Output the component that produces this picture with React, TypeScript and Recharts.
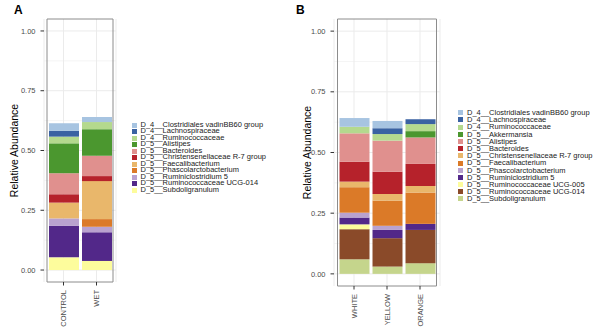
import React from "react";
import { BarChart, Bar, XAxis, YAxis, CartesianGrid, Legend, ReferenceArea } from "recharts";

// panel A (legend order, top to bottom)
const taxaA = [
  "D_4__Clostridiales vadinBB60 group",
  "D_4__Lachnospiraceae",
  "D_4__Ruminococcaceae",
  "D_5__Alistipes",
  "D_5__Bacteroides",
  "D_5__Christensenellaceae R-7 group",
  "D_5__Faecalibacterium",
  "D_5__Phascolarctobacterium",
  "D_5__Ruminiclostridium 5",
  "D_5__Ruminococcaceae UCG-014",
  "D_5__Subdoligranulum",
];
const colorsA = ["#a7c4e1", "#3a62a2", "#b4d98e", "#4b972f", "#e0908e", "#b6222b", "#e9b76b", "#db7a28", "#b9a2cf", "#522889", "#fdfc9c"];
const samplesA = ["CONTROL", "WET"];
const controlA = [0.032, 0.024, 0.028, 0.125, 0.088, 0.035, 0.066, 0, 0.031, 0.132, 0.053];
const wetA = [0.021, 0, 0.030, 0.111, 0.085, 0.021, 0.159, 0.032, 0.023, 0.120, 0.038];

// panel B
const taxaB = [
  "D_4__Clostridiales vadinBB60 group",
  "D_4__Lachnospiraceae",
  "D_4__Ruminococcaceae",
  "D_5__Akkermansia",
  "D_5__Alistipes",
  "D_5__Bacteroides",
  "D_5__Christensenellaceae R-7 group",
  "D_5__Faecalibacterium",
  "D_5__Phascolarctobacterium",
  "D_5__Ruminiclostridium 5",
  "D_5__Ruminococcaceae UCG-005",
  "D_5__Ruminococcaceae UCG-014",
  "D_5__Subdoligranulum",
];
const colorsB = ["#a7c4e1", "#3a62a2", "#b4d98e", "#4b972f", "#e0908e", "#b6222b", "#e9b76b", "#db7a28", "#b9a2cf", "#522889", "#fdfc9c", "#8a4a29", "#c5d58c"];
const samplesB = ["WHITE", "YELLOW", "ORANGE"];
const whiteB = [0.036, 0, 0.027, 0, 0.117, 0.082, 0.023, 0.105, 0.020, 0.028, 0.020, 0.124, 0.060];
const yellowB = [0.030, 0.024, 0.027, 0, 0.128, 0.092, 0.027, 0.104, 0.017, 0.034, 0, 0.117, 0.030];
const orangeB = [0, 0.020, 0.029, 0.026, 0.109, 0.091, 0.027, 0.129, 0, 0.025, 0, 0.137, 0.044];

const yTicks = [0, 0.25, 0.5, 0.75, 1];
const yMinor = [0.125, 0.375, 0.625, 0.875];

const FONT = "'Liberation Sans', Arial, sans-serif";

function buildRows(samples: string[], values: number[][]) {
  return samples.map((s, i) => {
    const row: Record<string, any> = { sample: s };
    values[i].forEach((v, j) => (row["t" + j] = v));
    return row;
  });
}

const XTick = ({ x, y, payload }: any) => (
  <text
    x={x}
    y={y}
    transform={`rotate(-90 ${x} ${y})`}
    textAnchor="end"
    dy="0.35em"
    fontSize={7.5}
    fill="#4d4d4d"
    fontFamily={FONT}
  >
    {payload.value}
  </text>
);

interface PanelProps {
  taxa: string[];
  colors: string[];
  samples: string[];
  values: number[][];
  left: number;
  plotLeft: number;
  plotRight: number;
  plotTop: number;
  plotBottom: number;
  padX: number;
  labelX: number;
  legendX: number;
  legendY: number;
  rowH: number;
}

function Panel(p: PanelProps) {
  const data = buildRows(p.samples, p.values);
  const W = 300;
  const H = 329;
  const renderLegend = () => (
    <div style={{ fontFamily: FONT }}>
      {p.taxa.map((t, i) => (
        <div key={t} style={{ display: "flex", alignItems: "center", height: p.rowH }}>
          <span style={{ width: 5, height: 5, background: p.colors[i], marginRight: 4, flex: "none" }} />
          <span style={{ fontSize: 7.5, lineHeight: p.rowH + "px", whiteSpace: "nowrap", color: "#1a1a1a" }}>{t}</span>
        </div>
      ))}
    </div>
  );
  return (
    <div style={{ position: "absolute", left: p.left, top: 0 }}>
      <BarChart
        width={W}
        height={H}
        data={data}
        margin={{ top: p.plotTop, left: 0, right: W - p.plotRight, bottom: 0 }}
      >
        <CartesianGrid stroke="#ebebeb" strokeWidth={0.5} vertical={false} horizontalValues={yMinor} />
        <CartesianGrid stroke="#ebebeb" strokeWidth={1} horizontalValues={yTicks} />
        <XAxis
          dataKey="sample"
          height={H - p.plotBottom}
          padding={{ left: p.padX, right: p.padX }}
          axisLine={false}
          tickSize={3.5}
          tickMargin={4.5}
          tickLine={{ stroke: "#333" }}
          tick={<XTick />}
          interval={0}
        />
        <YAxis
          type="number"
          domain={[-0.05, 1.05]}
          ticks={yTicks}
          width={p.plotLeft}
          axisLine={false}
          tickSize={3.5}
          tickMargin={5}
          tickLine={{ stroke: "#333" }}
          tick={{ fontSize: 7.5, fill: "#4d4d4d", fontFamily: FONT }}
          tickFormatter={(v: number) => v.toFixed(2)}
          label={{
            value: "Relative Abundance",
            content: () => (
              <text
                x={p.labelX}
                y={(p.plotTop + p.plotBottom) / 2}
                transform={`rotate(-90 ${p.labelX} ${(p.plotTop + p.plotBottom) / 2})`}
                textAnchor="middle"
                dy="0.35em"
                fontSize={10.5}
                fill="#000"
                fontFamily={FONT}
              >
                Relative Abundance
              </text>
            ),
          }}
        />
        {p.taxa
          .map((t, j) => ({ t, j }))
          .reverse()
          .map(({ t, j }) => (
            <Bar
              key={t}
              dataKey={"t" + j}
              name={t}
              stackId="s"
              fill={p.colors[j]}
              barSize={30}
              isAnimationActive={false}
            />
          ))}
        <ReferenceArea y1={-0.05} y2={1.05} fill="none" stroke="#8c8c8c" strokeWidth={1} ifOverflow="visible" />
        <Legend
          layout="vertical"
          align="center"
          verticalAlign="middle"
          wrapperStyle={{ left: p.legendX, top: p.legendY - p.rowH / 2, width: "auto", right: "auto", bottom: "auto" }}
          content={renderLegend}
        />
      </BarChart>
    </div>
  );
}

export default function App() {
  return (
    <div
      style={{
        position: "absolute",
        left: 0,
        top: 0,
        width: 600,
        height: 329,
        background: "#fff",
        fontFamily: FONT,
        overflow: "hidden",
      }}
    >
      <Panel
        taxa={taxaA}
        colors={colorsA}
        samples={samplesA}
        values={[controlA, wetA]}
        left={0}
        plotLeft={44}
        plotRight={116}
        plotTop={19}
        plotBottom={282}
        padX={3}
        labelX={14}
        legendX={131.5}
        legendY={125}
        rowH={6.5}
      />
      <Panel
        taxa={taxaB}
        colors={colorsB}
        samples={samplesB}
        values={[whiteB, yellowB, orangeB]}
        left={300}
        plotLeft={34}
        plotRight={140}
        plotTop={19}
        plotBottom={286}
        padX={3.5}
        labelX={7}
        legendX={158}
        legendY={112.7}
        rowH={7.2}
      />
      <div style={{ position: "absolute", left: 14, top: 3, fontSize: 12, fontWeight: "bold" }}>A</div>
      <div style={{ position: "absolute", left: 296, top: 3, fontSize: 12, fontWeight: "bold" }}>B</div>
    </div>
  );
}
